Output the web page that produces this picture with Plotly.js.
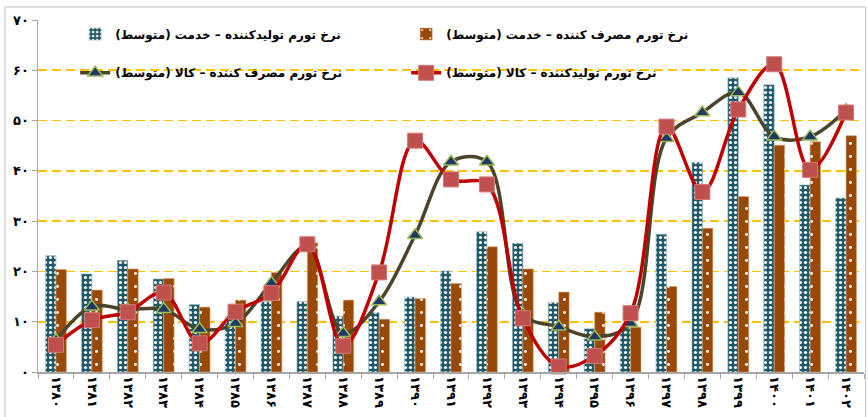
<!DOCTYPE html>
<html>
<head>
<meta charset="utf-8">
<script src="https://cdn.plot.ly/plotly-3.0.1.min.js"></script>
<style>
  html, body { margin: 0; padding: 0; background: #fff; }
  #chart { width: 868px; height: 417px; }
</style>
</head>
<body>
<div id="chart"></div>
<script>
// Categories (years)
const years = ["۱۳۸۰","۱۳۸۱","۱۳۸۲","۱۳۸۳","۱۳۸۴","۱۳۸۵","۱۳۸۶","۱۳۸۷","۱۳۸۸","۱۳۸۹","۱۳۹۰","۱۳۹۱","۱۳۹۲","۱۳۹۳","۱۳۹۴","۱۳۹۵","۱۳۹۶","۱۳۹۷","۱۳۹۸","۱۳۹۹","۱۴۰۰","۱۴۰۱","۱۴۰۲"];

// Producer inflation – services (average)
const producerService = [23.1, 19.5, 22.2, 18.5, 13.4, 11.1, 14.0, 14.0, 11.1, 11.8, 14.9, 20.1, 27.9, 25.6, 13.8, 8.6, 8.7, 27.4, 41.7, 58.5, 57.1, 37.2, 34.6];
// Consumer inflation – services (average)
const consumerService = [20.4, 16.3, 20.5, 18.6, 12.9, 14.3, 19.8, 25.7, 14.3, 10.5, 14.6, 17.6, 24.9, 20.5, 15.9, 11.9, 8.9, 17.0, 28.6, 34.9, 45.1, 45.8, 47.0];
// Consumer inflation – goods (average)
const consumerGoods = [6.3, 13.0, 12.4, 12.5, 8.5, 9.7, 17.7, 25.0, 7.7, 14.0, 27.2, 41.8, 41.8, 11.5, 9.0, 7.0, 9.7, 46.5, 51.6, 55.6, 46.8, 46.8, 52.1];
// Producer inflation – goods (average)
const producerGoods = [5.4, 10.3, 11.9, 15.8, 5.7, 12.0, 15.7, 25.4, 5.2, 19.8, 46.0, 38.3, 37.3, 10.7, 1.1, 3.2, 11.7, 48.8, 35.8, 52.2, 61.2, 40.2, 51.6];

// Series names
const nameProducerService = "نرخ تورم تولیدکننده – خدمت (متوسط)";
const nameConsumerService = "نرخ تورم مصرف کننده – خدمت (متوسط)";
const nameConsumerGoods = "نرخ تورم مصرف کننده – کالا (متوسط)";
const nameProducerGoods = "نرخ تورم تولیدکننده – کالا (متوسط)";

// Y tick labels
const yTickVals = [0, 10, 20, 30, 40, 50, 60, 70];
const yTickText = ["۰","۱۰","۲۰","۳۰","۴۰","۵۰","۶۰","۷۰"];

const FONT = "DejaVu Sans, Noto Sans, sans-serif";

const traces = [
  {
    type: "bar", name: nameProducerService, x: years, y: producerService,
    legend: "legend",
    marker: {
      color: "#1F5868",
      line: { color: "#8fb3bd", width: 0.6 },
      pattern: { shape: ".", fillmode: "replace", bgcolor: "#1F5868", fgcolor: "#ffffff", size: 5, solidity: 0.3 }
    }
  },
  {
    type: "bar", name: nameConsumerService, x: years, y: consumerService,
    legend: "legend",
    marker: {
      color: "#984807",
      line: { color: "#d9a070", width: 0.6 },
      pattern: { shape: ".", fillmode: "replace", bgcolor: "#984807", fgcolor: "#ffffff", size: 13, solidity: 0.04 }
    }
  },
  {
    type: "scatter", mode: "lines+markers", name: nameConsumerGoods, x: years, y: consumerGoods,
    legend: "legend2", cliponaxis: false,
    line: { color: "#4A452A", width: 3.5, shape: "spline", smoothing: 1 },
    marker: { symbol: "triangle-up", size: 13, color: "#1F3864", line: { color: "#9BBB59", width: 1.5 } }
  },
  {
    type: "scatter", mode: "lines+markers", name: nameProducerGoods, x: years, y: producerGoods,
    legend: "legend2", cliponaxis: false,
    line: { color: "#C00000", width: 3.5, shape: "spline", smoothing: 1 },
    marker: { symbol: "square", size: 15, color: "#C0504D", line: { color: "#d07a78", width: 1 } }
  }
];

const legendCommon = {
  orientation: "h",
  xref: "paper", yref: "paper",
  xanchor: "left", yanchor: "middle",
  entrywidth: 286, entrywidthmode: "pixels",
  bgcolor: "rgba(0,0,0,0)",
  font: { family: FONT, size: 12, color: "#000", weight: "bold" },
  itemclick: false
};

const layout = {
  width: 868, height: 417,
  margin: { l: 38, r: 4, t: 20, b: 45 },
  paper_bgcolor: "#ffffff",
  plot_bgcolor: "#ffffff",
  barmode: "group",
  bargap: 0.42,
  bargroupgap: 0,
  font: { family: FONT, color: "#000" },
  showlegend: true,
  legend: Object.assign({}, legendCommon, { x: 0.045, y: 0.96 }),
  legend2: Object.assign({}, legendCommon, { x: 0.045, y: 0.85 }),
  xaxis: {
    type: "category",
    range: [-0.5, years.length - 0.5],
    autorange: false,
    showline: true, linecolor: "#A6A6A6", linewidth: 1.5,
    ticks: "outside", tickson: "boundaries", ticklen: 5, tickcolor: "#A6A6A6",
    tickangle: 90,
    tickfont: { family: FONT, size: 13, color: "#000", weight: "bold" },
    showgrid: false, zeroline: false
  },
  yaxis: {
    range: [0, 70],
    autorange: false,
    tickvals: yTickVals, ticktext: yTickText,
    showline: true, linecolor: "#A6A6A6", linewidth: 1.5,
    ticks: "outside", ticklen: 5, tickcolor: "#A6A6A6",
    tickfont: { family: FONT, size: 13, color: "#000", weight: "bold" },
    showgrid: true, gridcolor: "#FFC000", gridwidth: 1.8, griddash: "9px,5px",
    zeroline: false
  },
  shapes: [
    {
      type: "rect", xref: "paper", yref: "paper",
      x0: -0.04, x1: 1.002, y0: -0.3, y1: 1.037,
      line: { color: "#BFBFBF", width: 1 }, fillcolor: "rgba(0,0,0,0)", layer: "below"
    }
  ]
};

Plotly.newPlot("chart", traces, layout, { displayModeBar: false, staticPlot: true });
</script>
</body>
</html>
